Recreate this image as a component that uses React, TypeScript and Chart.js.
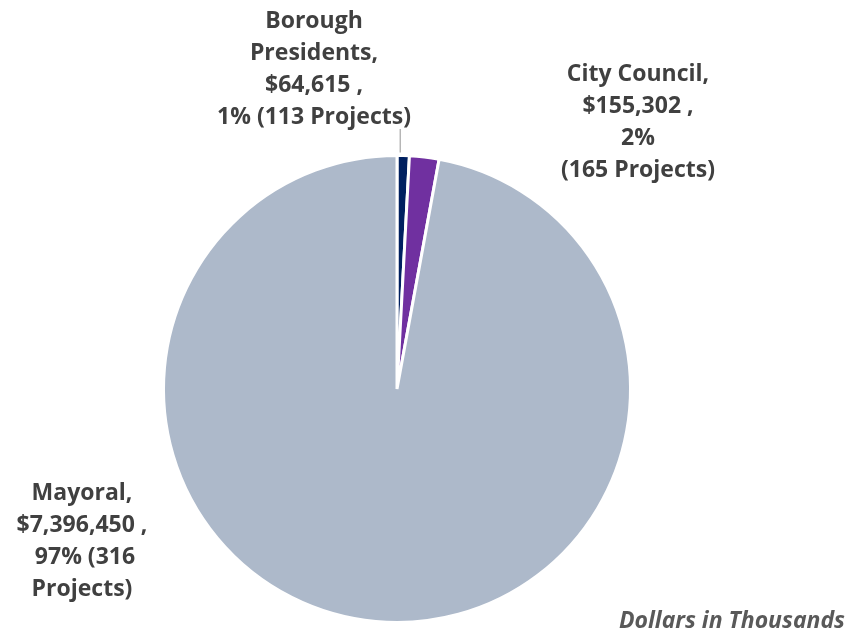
import React, { useEffect, useRef } from "react";
import { Chart, registerables } from "chart.js";

Chart.register(...registerables);

const categories = ["Borough Presidents", "City Council", "Mayoral"];
const values = [64615, 155302, 7396450];
const percents = ["1%", "2%", "97%"];
const projects = [113, 165, 316];
const colors = ["#002060", "#7030A0", "#ADB9CA"];
const labelLines = [
  ["Borough", "Presidents,", "$64,615 ,", "1% (113 Projects)"],
  ["City Council,", "$155,302 ,", "2%", "(165 Projects)"],
  ["Mayoral,", "$7,396,450 ,", " 97% (316", "Projects)"],
];
const note = "Dollars in Thousands";

// label layout (text positions only)
const labelLayout = [
  { x: 314, y: 21, leader: true },
  { x: 638, y: 74, leader: false },
  { x: 82, y: 493, leader: false },
];
const LINE_H = 32.3;
const FONT = "'Open Sans', Lato, sans-serif";

const labelPlugin = {
  id: "pieLabels",
  afterDatasetsDraw(chart: any) {
    const { ctx } = chart;
    const meta = chart.getDatasetMeta(0);
    ctx.save();
    ctx.fillStyle = "#404040";
    ctx.font = `bold 23px ${FONT}`;
    ctx.textAlign = "center";
    ctx.textBaseline = "middle";
    meta.data.forEach((arc: any, i: number) => {
      const lay = labelLayout[i];
      const lines = labelLines[i];
      lines.forEach((t, k) => ctx.fillText(t, lay.x, lay.y + k * LINE_H));
      if (lay.leader) {
        const { x, y, startAngle, endAngle, outerRadius } = arc.getProps(
          ["x", "y", "startAngle", "endAngle", "outerRadius"],
          true
        );
        const mid = (startAngle + endAngle) / 2;
        const px = x + Math.cos(mid) * outerRadius;
        const py = y + Math.sin(mid) * outerRadius;
        ctx.strokeStyle = "#A6A6A6";
        ctx.lineWidth = 1.2;
        ctx.beginPath();
        ctx.moveTo(px - 3, lay.y + (lines.length - 1) * LINE_H + 11);
        ctx.lineTo(px - 3, py - 3);
        ctx.stroke();
      }
    });
    ctx.font = `italic bold 23px ${FONT}`;
    ctx.fillStyle = "#595959";
    ctx.textAlign = "right";
    ctx.fillText(note, 845, 621);
    ctx.restore();
  },
};

export default function App() {
  const ref = useRef<HTMLCanvasElement>(null);
  useEffect(() => {
    if (!ref.current) return;
    const chart = new Chart(ref.current, {
      type: "pie",
      data: {
        labels: categories,
        datasets: [
          {
            data: values,
            backgroundColor: colors,
            borderColor: "#FFFFFF",
            borderWidth: 3,
          },
        ],
      },
      options: {
        responsive: false,
        animation: false,
        layout: { padding: { left: 162, right: 216, top: 154, bottom: 9 } },
        plugins: {
          legend: { display: false },
          tooltip: { enabled: false },
        },
      },
      plugins: [labelPlugin],
    });
    return () => chart.destroy();
  }, []);
  return (
    <div style={{ position: "fixed", left: 0, top: 0, width: 848, height: 633, background: "#fff" }}>
      <canvas ref={ref} width={848} height={633} style={{ width: 848, height: 633 }} />
    </div>
  );
}
